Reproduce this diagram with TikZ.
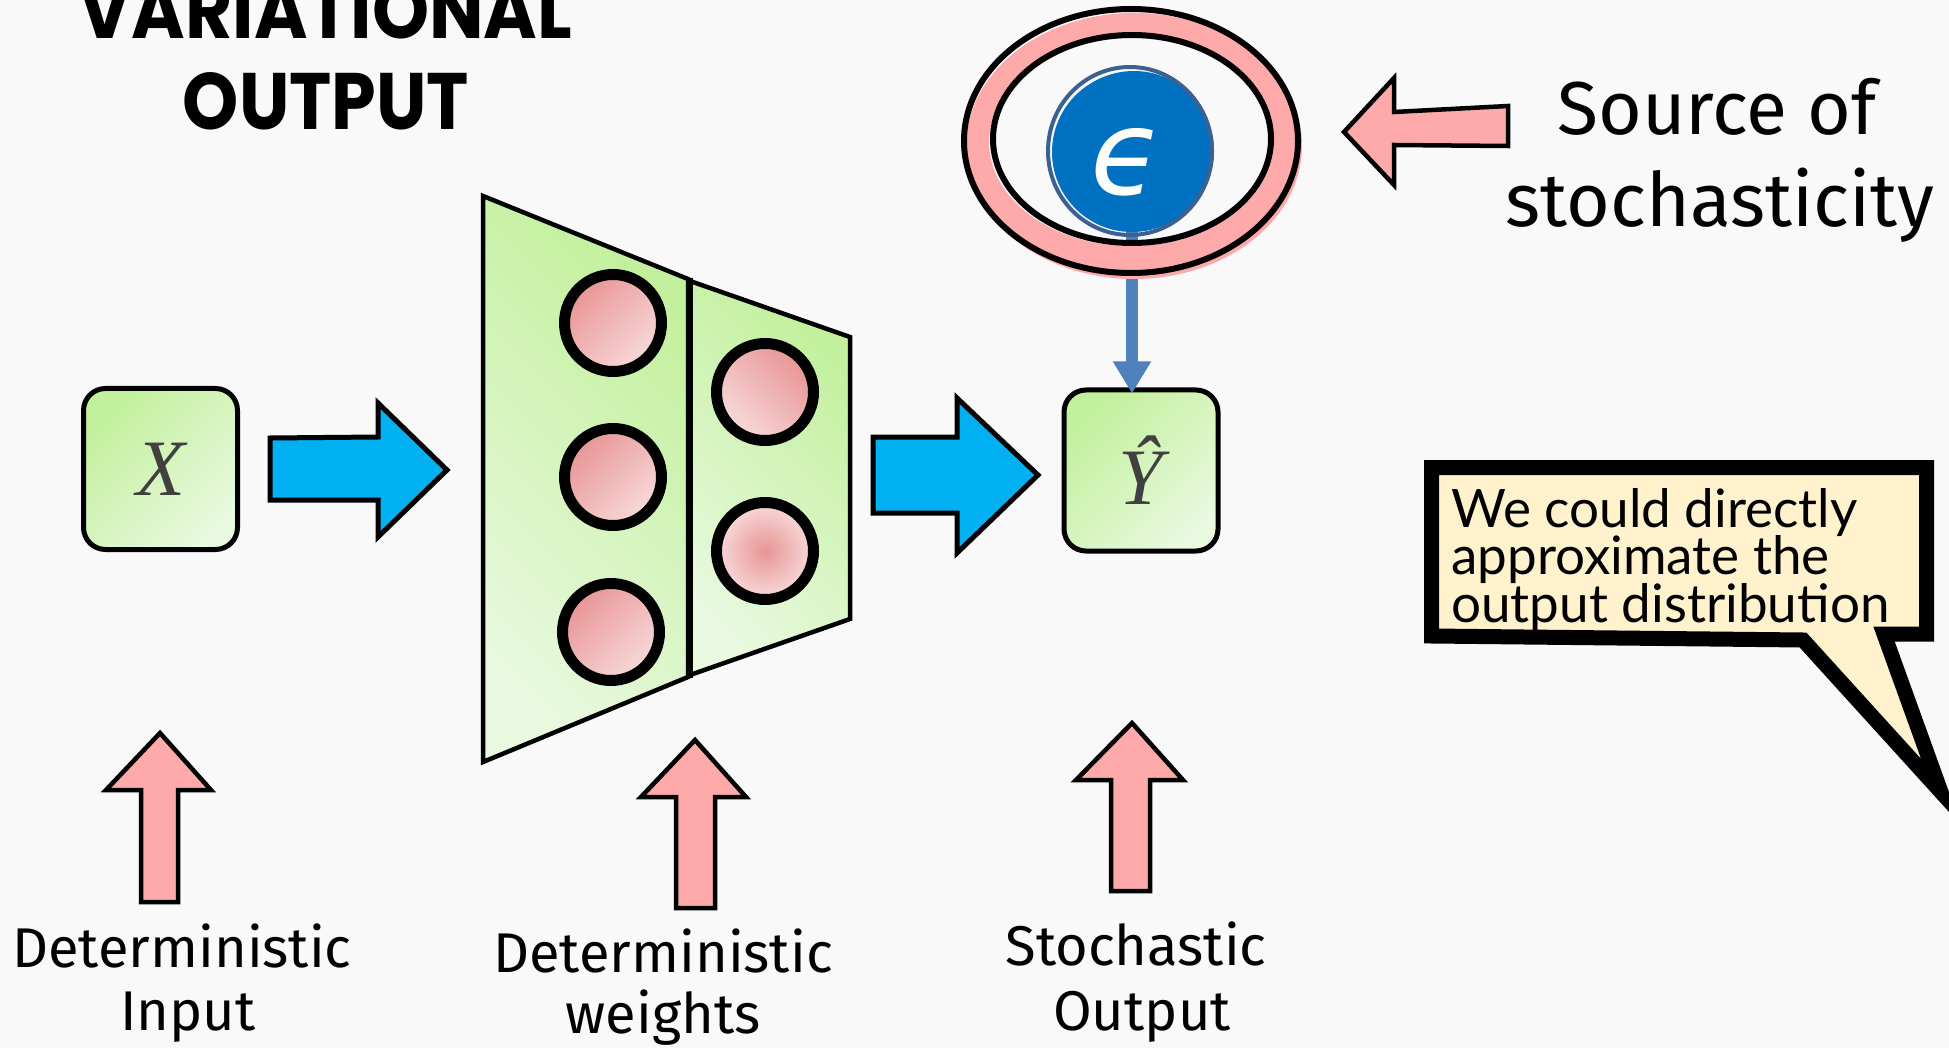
\documentclass[tikz,border=0pt]{standalone}
\usepackage{fontspec}
\usepackage{graphicx}
\usetikzlibrary{arrows.meta}
\newfontfamily\labelfont{Fira Sans}
\newfontfamily\bubblefont{Lato}
\newfontfamily\titlefont{Poppins}
\newfontfamily\symfont{Liberation Serif}
\newfontfamily\epsfont{DejaVu Sans}
\definecolor{bg}{HTML}{F9F9F9}
\definecolor{greenA}{HTML}{C2F09C}
\definecolor{greenB}{HTML}{E8F9DF}
\definecolor{pinkA}{HTML}{E89494}
\definecolor{pinkB}{HTML}{F8DADA}
\definecolor{pinkArrow}{HTML}{FFAAAA}
\definecolor{cyanArrow}{HTML}{00B0F0}
\definecolor{epsBlue}{HTML}{0070C0}
\definecolor{epsEdge}{HTML}{3C6191}
\definecolor{linkBlue}{HTML}{4F81BD}
\definecolor{cream}{HTML}{FFF2CC}
\definecolor{symGrey}{HTML}{404040}

\begin{document}
\begin{tikzpicture}[x=1pt,y=-1pt,
  varbox/.style={draw=black,line width=5pt,rounded corners=22pt,
    top color=greenA,bottom color=greenB,shading angle=45,
    minimum width=154pt,minimum height=161pt,inner sep=0pt,text=symGrey,
    font=\symfont\itshape\fontsize{80}{90}\selectfont},
  layer/.style={draw=black,line width=4.5pt,line join=miter,
    top color=greenA,bottom color=greenB,shading angle=-45},
  neuron/.style={circle,draw=black,line width=11pt,minimum size=97pt,inner sep=0pt,
    top color=pinkA,bottom color=pinkB,shading angle=45},
  flowarrow/.style={fill=cyanArrow,draw=black,line width=5pt,line join=miter},
  notearrow/.style={fill=pinkArrow,draw=black,line width=4.5pt,line join=miter},
  caption/.style={anchor=base,inner sep=0pt,font=\labelfont\fontsize{56}{60}\selectfont},
  bigcaption/.style={anchor=base,inner sep=0pt,font=\labelfont\fontsize{75}{80}\selectfont},
  bubbletext/.style={anchor=base west,inner sep=0pt,font=\bubblefont\fontsize{53}{50}\selectfont},
  titletext/.style={anchor=base,inner sep=0pt}
]
\clip (0,0) rectangle (1949,1048);
\useasboundingbox (0,0) rectangle (1949,1048);
\fill[bg] (0,0) rectangle (1949,1048);

% title
\node[titletext] (title1) at (325.5,39) {\resizebox{493pt}{57pt}{\titlefont\bfseries VARIATIONAL}};
\node[titletext] (title2) at (326,130) {\resizebox{286pt}{57pt}{\titlefont\bfseries OUTPUT}};

% input and output boxes
\node[varbox] (xin) at (160.5,469) {X};
\node[varbox] (yhat) at (1141,470.5) {Ŷ};

% block arrows between the stages
\path[flowarrow] (270,438) -- (378,437) -- (378,403) -- (447,470) -- (378,537) -- (378,500) -- (270,500) -- cycle;
\path[flowarrow] (873,437) -- (957,437) -- (957,398) -- (1038,475) -- (957,553) -- (957,513) -- (873,513) -- cycle;

% network: two layers
\path[layer] (483,196) -- (688,279) -- (688,677) -- (483,762) -- cycle;
\path[layer] (690,281) -- (850,337) -- (850,619) -- (690,675) -- cycle;
\draw[line width=7pt] (689,278) -- (689,678);

\node[neuron] (n11) at (613,323) {};
\node[neuron] (n12) at (613,477) {};
\node[neuron] (n13) at (611,632) {};
\node[neuron,shading angle=-45] (n21) at (765,392) {};
\node[neuron,shading=radial,inner color=pinkA,outer color=pinkB] (n22) at (765,551) {};

% noise source feeding the output
\node[circle,fill=epsBlue,minimum size=160pt,inner sep=0pt] (eps) at (1132,152) {};
\draw[linkBlue,line width=12pt,-{Triangle[width=36pt,length=32pt]},shorten >=-6pt]
  (eps.south) -- (eps.south |- yhat.north);
\path[fill=pinkArrow,even odd rule]
  (1134,146) ellipse[x radius=168pt,y radius=133pt]
  (1131,142) ellipse[x radius=142pt,y radius=104pt];
\draw[line width=6pt] (1131,141) ellipse[x radius=167pt,y radius=132pt];
\draw[line width=6pt] (1132,139) ellipse[x radius=139pt,y radius=104pt];
\node[circle,fill=epsBlue,minimum size=160pt,inner sep=0pt] at (1134,151) {};
\draw[epsEdge,line width=4pt] (1130,151) ellipse[x radius=82pt,y radius=84pt];
\node[text=white,font=\epsfont\itshape\fontsize{118}{120}\selectfont] (epssym) at (1127,162) {ϵ};

% pointer to the noise source
\path[notearrow] (1344,132) -- (1394,78) -- (1394,112) -- (1508,106) -- (1508,146) -- (1394,145) -- (1394,185) -- cycle;
\node[bigcaption] (src1) at (1717,135) {Source of};
\node[bigcaption] (src2) at (1720,227) {stochasticity};

% upward pointers to the captions
\path[notearrow] (160,733) -- (211,790) -- (178,790) -- (178,902) -- (141,902) -- (141,790) -- (106,790) -- cycle;
\path[notearrow] (695,740) -- (746,797) -- (715,797) -- (715,908) -- (676,908) -- (676,797) -- (641,797) -- cycle;
\path[notearrow] (1132,723) -- (1183,780) -- (1150,780) -- (1150,891) -- (1111,891) -- (1111,780) -- (1076,780) -- cycle;

\node[caption] (cin1) at (182,967) {Deterministic};
\node[caption] (cin2) at (188,1030) {Input};
\node[caption] (cw1) at (663,972) {Deterministic};
\node[caption] (cw2) at (663,1033) {weights};
\node[caption] (cout1) at (1136,965) {Stochastic};
\node[caption] (cout2) at (1142,1030) {Output};

% speech bubble
\path[fill=cream,draw=black,line width=15pt,line join=miter,miter limit=20]
  (1431.5,467.5) -- (1926.5,467.5) -- (1926.5,634) -- (1884,634) -- (1941,792)
  -- (1803,640) -- (1431.5,636) -- cycle;
\node[bubbletext] (b1) at (1451,527) {We could directly};
\node[bubbletext] (b2) at (1451,574) {approximate the};
\node[bubbletext] (b3) at (1451,622) {output distribution};
\end{tikzpicture}
\end{document}
